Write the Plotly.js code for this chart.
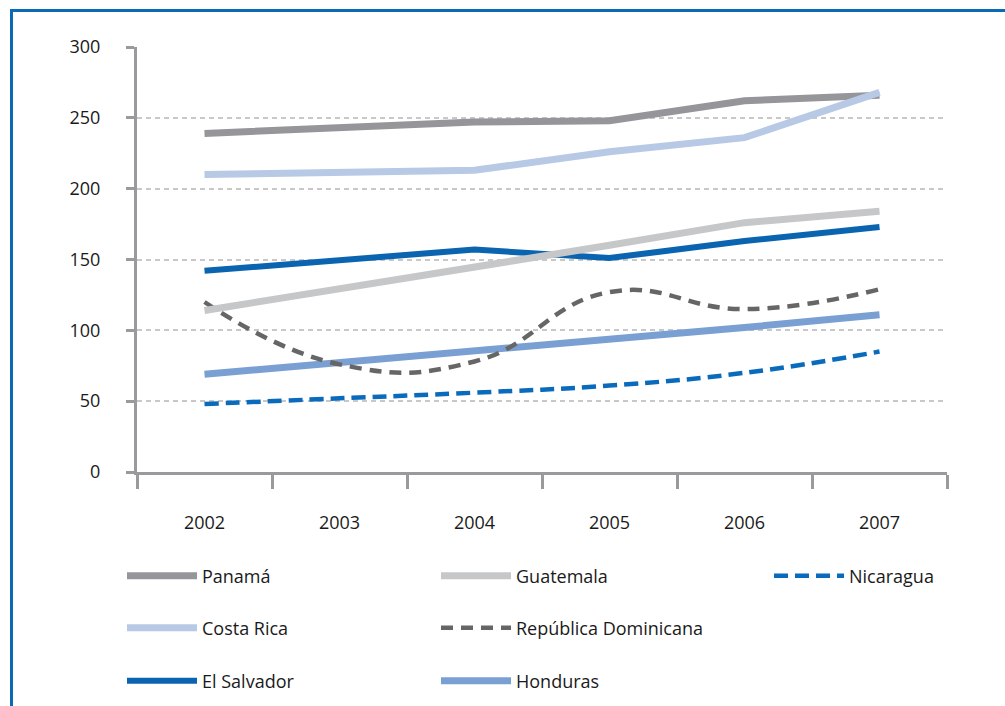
<!DOCTYPE html>
<html>
<head>
<meta charset="utf-8">
<script src="https://cdn.plot.ly/plotly-3.0.1.min.js"></script>
<style>html,body{margin:0;padding:0;background:#fff;}#chart{width:1005px;height:706px;}</style>
</head>
<body>
<div id="chart"></div>
<script>
const years = ['2002', '2003', '2004', '2005', '2006', '2007'];
const panama = [239, 243, 247, 248, 262, 266];
const costaRica = [210, 212, 213, 226, 236, 268];
const elSalvador = [142, 149, 157, 151, 163, 173];
const guatemala = [114, 129, 144, 160, 176, 184];
const repDominicana = [120, 76, 78, 127, 115, 129];
const honduras = [69, 77, 85, 94, 102, 111];
const nicaragua = [48, 52, 56, 61, 70, 85];
const yTicks = [0, 50, 100, 150, 200, 250, 300];

const FONT = 'Open Sans, Noto Sans, sans-serif';

function mk(name, y, color, width, dash, shape, legendId) {
  return {
    type: 'scatter', mode: 'lines', name: name, x: years, y: y,
    line: {color: color, width: width, dash: dash || 'solid', shape: shape || 'linear', smoothing: 1.3},
    legend: legendId, hoverinfo: 'x+y+name'
  };
}

const traces = [
  mk('Nicaragua', nicaragua, '#0a6bbd', 4.5, '14px,7px', 'spline', 'legend3'),
  mk('Honduras', honduras, '#7a9fd2', 7, null, 'linear', 'legend7'),
  mk('República Dominicana', repDominicana, '#666666', 4.5, '12px,8px', 'spline', 'legend5'),
  mk('El Salvador', elSalvador, '#0a64b0', 6, null, 'linear', 'legend6'),
  mk('Guatemala', guatemala, '#c6c7c9', 7, null, 'linear', 'legend2'),
  mk('Panamá', panama, '#96969a', 7, null, 'linear', 'legend'),
  mk('Costa Rica', costaRica, '#b8c9e6', 7, null, 'linear', 'legend4')
];

function px2x(px) { return (px - 137) / 810; }
function py2y(py) { return (472 - py) / 425; }

function leg(xpx, ypx) {
  return {
    x: px2x(xpx), y: py2y(ypx), xanchor: 'left', yanchor: 'middle',
    orientation: 'v', bgcolor: 'rgba(0,0,0,0)', borderwidth: 0,
    itemwidth: 70, font: {family: FONT, size: 18, color: '#1a1a1a'}
  };
}

const layout = {
  width: 1005, height: 706,
  margin: {l: 137, r: 58, t: 47, b: 234, autoexpand: false},
  paper_bgcolor: '#ffffff', plot_bgcolor: '#ffffff',
  font: {family: FONT, size: 18, color: '#1a1a1a'},
  showlegend: true,
  legend: leg(122, 576),
  legend2: leg(436, 576),
  legend3: leg(769, 576),
  legend4: leg(122, 628),
  legend5: leg(436, 628),
  legend6: leg(122, 681),
  legend7: leg(436, 681),
  xaxis: {
    type: 'category', range: [-0.5, 5.5], tickson: 'boundaries', ticks: 'outside', ticklen: 14, tickwidth: 3,
    tickcolor: '#9a9a9e', showline: true, linecolor: '#9a9a9e', linewidth: 3,
    showgrid: false, zeroline: false, ticklabelstandoff: 32,
    tickfont: {family: FONT, size: 18, color: '#1a1a1a'}
  },
  yaxis: {
    range: [0, 300], tickvals: yTicks, ticks: 'outside', ticklen: 8, tickwidth: 3,
    tickcolor: '#9a9a9e', showline: true, linecolor: '#9a9a9e', linewidth: 3,
    showgrid: true, gridcolor: '#c8c8c8', gridwidth: 2, griddash: '5px,4px',
    zeroline: false, ticklabelstandoff: 22,
    tickfont: {family: FONT, size: 18, color: '#1a1a1a'}
  },
  shapes: [
    {type: 'line', xref: 'paper', yref: 'paper', x0: px2x(10), x1: 1.2, y0: py2y(10.5), y1: py2y(10.5),
     line: {color: '#0a6ab5', width: 3}},
    {type: 'line', xref: 'paper', yref: 'paper', x0: px2x(11.5), x1: px2x(11.5), y0: py2y(9), y1: -0.7,
     line: {color: '#0a6ab5', width: 3}}
  ]
};

Plotly.newPlot('chart', traces, layout, {displayModeBar: false, staticPlot: true});
</script>
</body>
</html>
